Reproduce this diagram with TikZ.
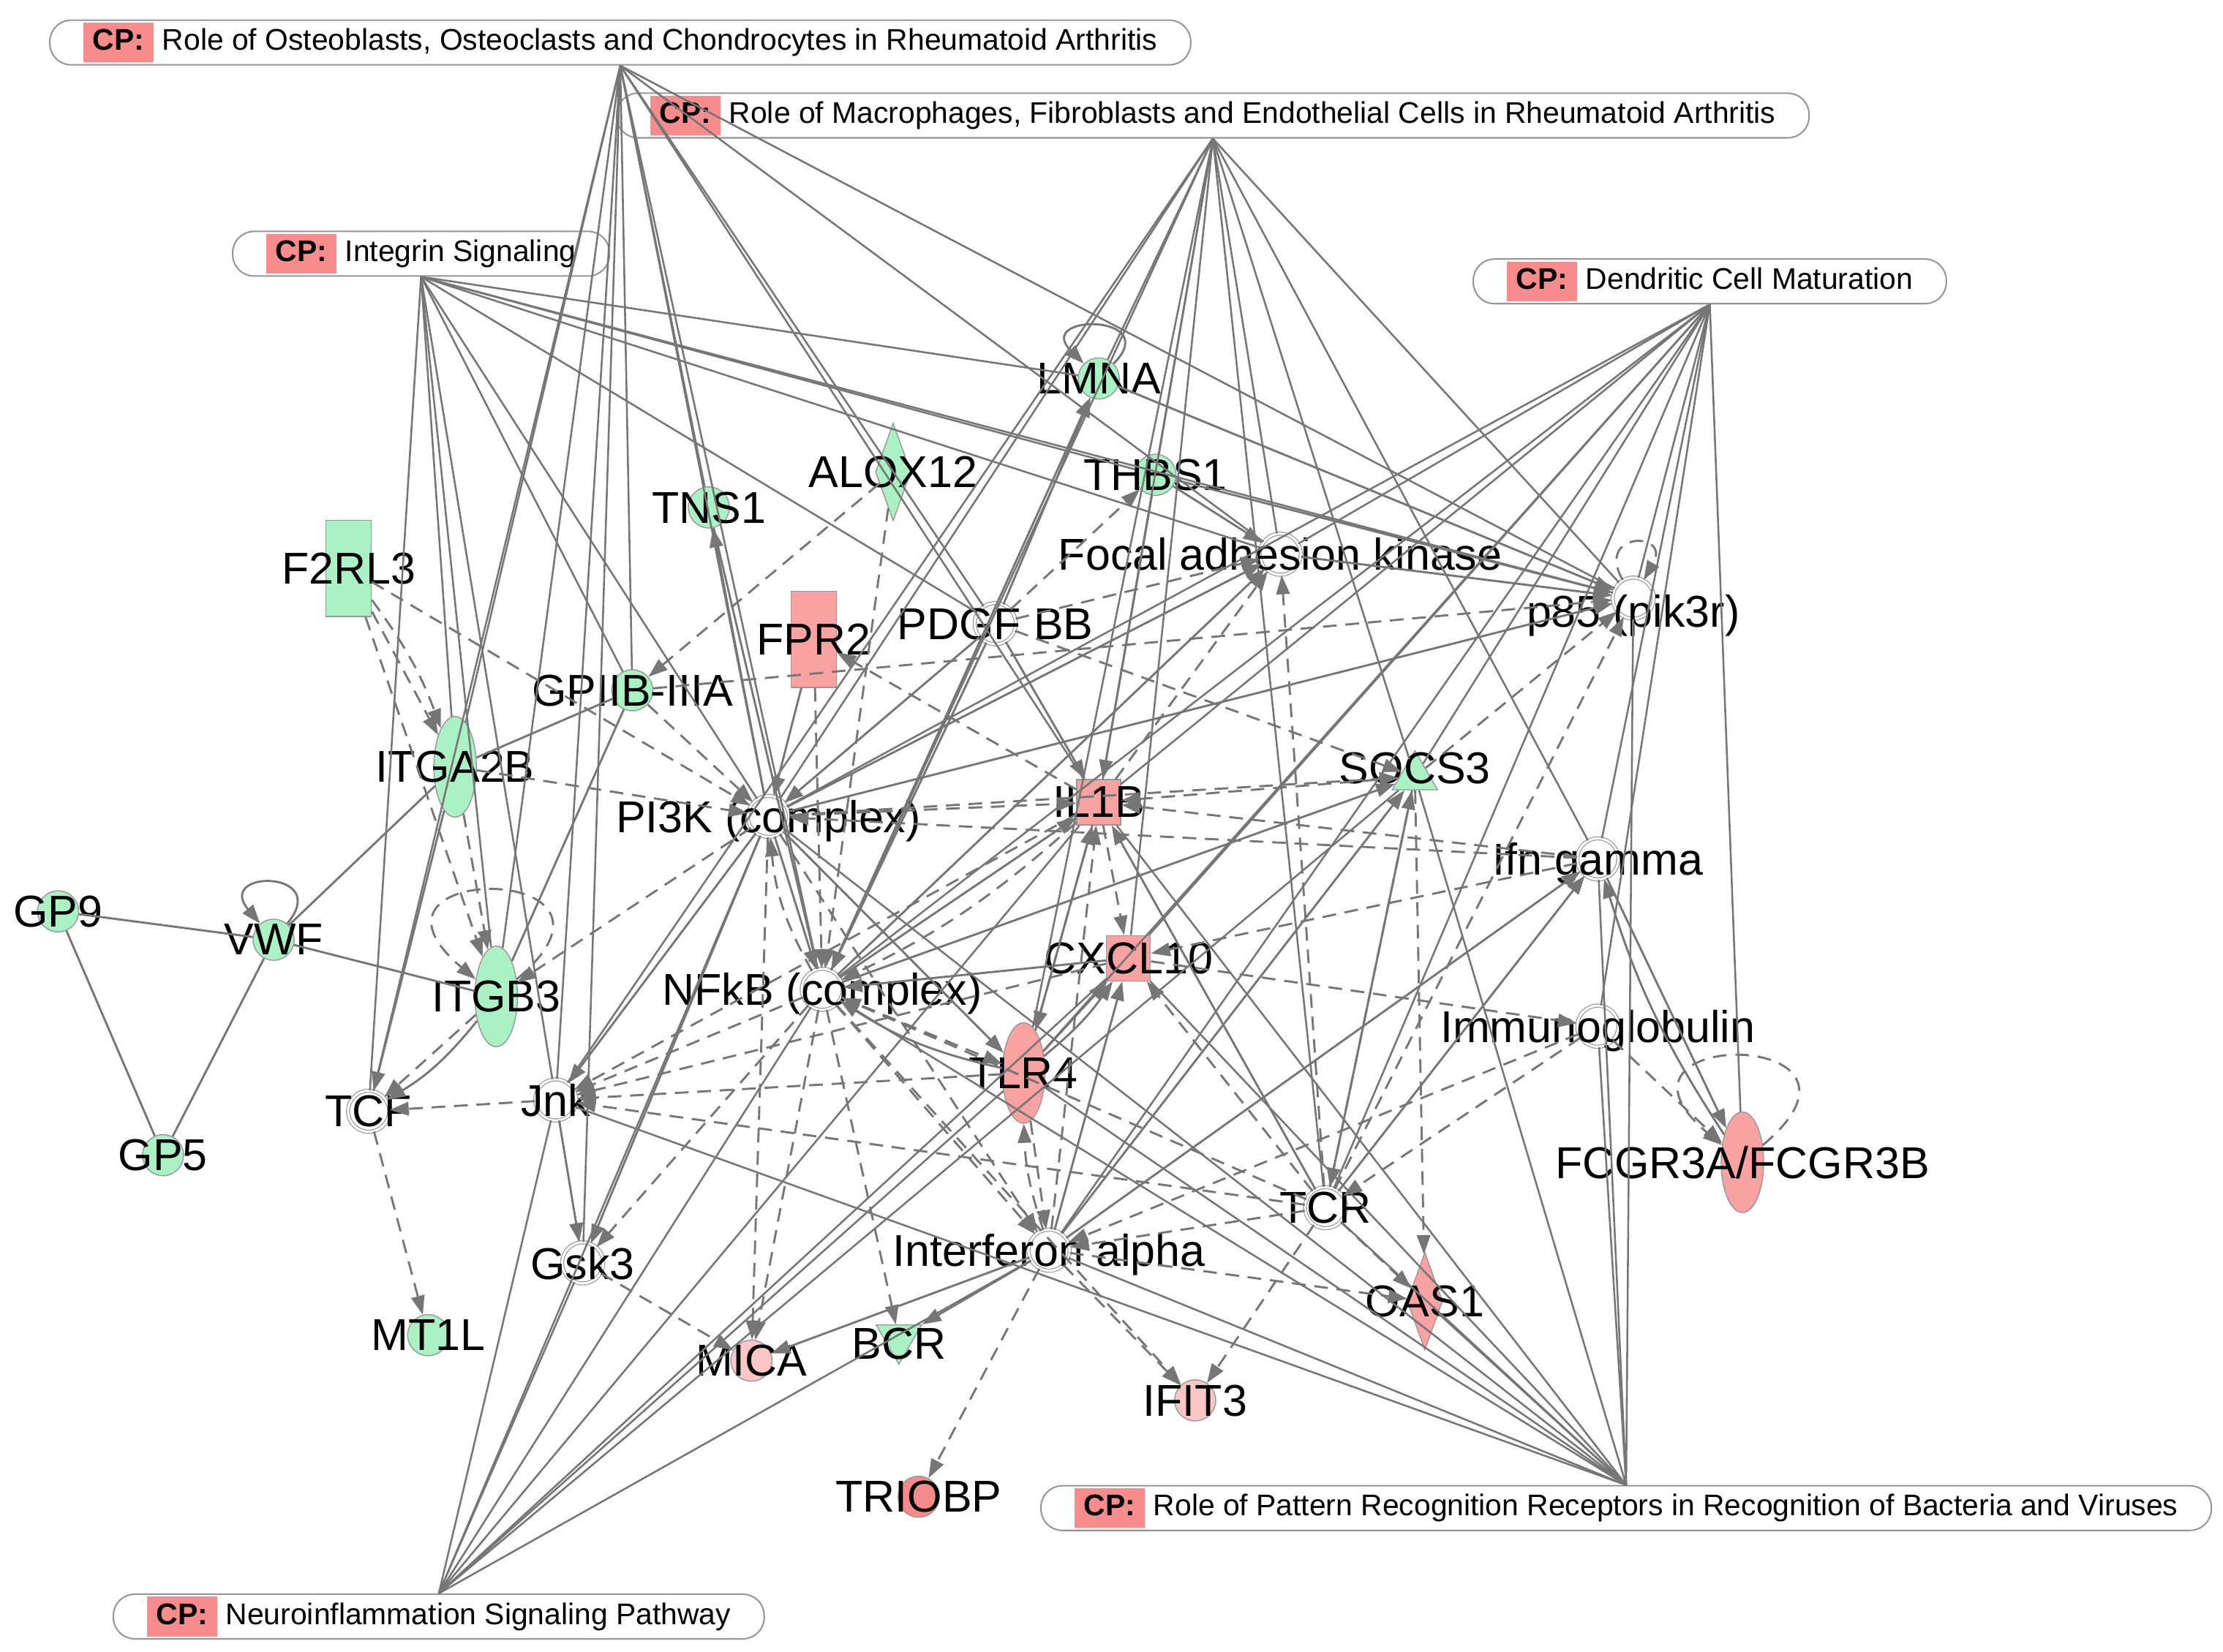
\documentclass[tikz,border=0pt]{standalone}
\usepackage{fontspec}
\setmainfont{Liberation Sans}
\usepackage{tikz}
\usetikzlibrary{arrows.meta,shapes.geometric}
\definecolor{edgegray}{RGB}{118,118,118}
\definecolor{rimgray}{RGB}{150,150,150}
\definecolor{gfill}{RGB}{170,242,196}
\definecolor{rfill}{RGB}{248,162,162}
\definecolor{lfill}{RGB}{251,198,198}
\definecolor{dfill}{RGB}{244,138,138}
\definecolor{cpred}{RGB}{248,140,140}
\newcommand{\cptag}{{\setlength{\fboxsep}{0pt}\colorbox{cpred}{\rule[-0.17cm]{0pt}{0.56cm}\hspace{0.135cm}\textbf{CP:}\hspace{0.135cm}}}\hspace{0.12cm}}

\begin{document}
\begin{tikzpicture}[x=0.02cm, y=-0.02cm,
    lbl/.style={font=\fontsize{17.9}{20}\selectfont, inner sep=0pt, text depth=0pt},
    gene/.style={draw=rimgray, line width=0.4pt, inner sep=0pt},
    gcirc/.style={gene, circle, fill=gfill, minimum size=0.58cm},
    gell/.style={gene, ellipse, fill=gfill, minimum width=0.6cm, minimum height=1.42cm},
    grect/.style={gene, rectangle, fill=gfill, minimum width=0.64cm, minimum height=1.36cm},
    gdiam/.style={gene, diamond, fill=gfill, minimum width=0.5cm, minimum height=1.38cm},
    gtri/.style={gene, regular polygon, regular polygon sides=3, fill=gfill, minimum size=0.74cm},
    rrect/.style={grect, fill=rfill},
    rsq/.style={gene, rectangle, fill=rfill, minimum width=0.62cm, minimum height=0.64cm},
    rell/.style={gell, fill=rfill},
    rdiam/.style={gdiam, fill=rfill},
    lcirc/.style={gcirc, fill=lfill},
    dcirc/.style={gcirc, fill=dfill},
    cplx/.style={circle, draw=rimgray, line width=0.35pt, double=white, double distance=0.9pt, fill=white, minimum size=0.58cm, inner sep=0pt},
    cpbox/.style={draw=rimgray, line width=0.6pt, fill=white, rounded corners=0.3cm, minimum height=0.63cm, inner xsep=0.47cm, inner ysep=0.03cm, font=\fontsize{12}{14}\selectfont},
    sline/.style={draw=edgegray, line width=0.85pt},
    cpline/.style={draw=edgegray, line width=0.75pt},
    sarrow/.style={sline, -{Triangle[length=0.27cm, width=0.19cm]}},
    darrow/.style={sarrow, dash pattern=on 5.5pt off 3.5pt}]
    \useasboundingbox (0, 0) rectangle (1568, 1165.5);

    % canonical pathways
    \node [cpbox] (cpa) at (437.5, 30) {\cptag Role of Osteoblasts, Osteoclasts and Chondrocytes in Rheumatoid Arthritis};
    \node [cpbox] (cpb) at (855.5, 81.5) {\cptag Role of Macrophages, Fibroblasts and Endothelial Cells in Rheumatoid Arthritis};
    \node [cpbox] (cpc) at (297, 179) {\cptag Integrin Signaling};
    \node [cpbox] (cpd) at (1206, 198.5) {\cptag Dendritic Cell Maturation};
    \node [cpbox] (cpe) at (1147, 1064) {\cptag Role of Pattern Recognition Receptors in Recognition of Bacteria and Viruses};
    \node [cpbox] (cpf) at (309.5, 1140.5) {\cptag Neuroinflammation Signaling Pathway};

    % molecules
    \node [gcirc, label={[lbl]center:LMNA}] (lmna) at (775, 267) {};
    \node [gdiam, label={[lbl]center:ALOX12}] (alox) at (630, 333) {};
    \node [gcirc, label={[lbl]center:TNS1}] (tns) at (500, 358) {};
    \node [gcirc, label={[lbl]center:THBS1}] (thbs) at (815, 335) {};
    \node [grect, label={[lbl]center:F2RL3}] (ftrl) at (246, 401) {};
    \node [rrect, label={[lbl]center:FPR2}] (fpr) at (574, 451) {};
    \node [cplx, label={[lbl]center:PDGF BB}] (pdgf) at (702, 440) {};
    \node [cplx, label={[lbl]center:Focal adhesion kinase}] (fak) at (903, 391) {};
    \node [cplx, label={[lbl, yshift=-0.18cm]center:p85 (pik3r)}] (pik) at (1152, 422) {};
    \node [gcirc, label={[lbl]center:GPIIB-IIIA}] (gpiib) at (446, 487) {};
    \node [gell, label={[lbl]center:ITGA2B}] (itga) at (321, 541) {};
    \node [cplx, label={[lbl]center:PI3K (complex)}] (pik3c) at (542, 576) {};
    \node [rsq, label={[lbl]center:IL1B}] (ilb) at (775, 566) {};
    \node [gtri, label={[lbl, yshift=0.12cm]center:SOCS3}] (socs) at (998, 548) {};
    \node [cplx, label={[lbl]center:Ifn gamma}] (ifng) at (1127, 606) {};
    \node [gcirc, label={[lbl]center:GP9}] (gpnine) at (41, 643) {};
    \node [gcirc, label={[lbl]center:VWF}] (vwf) at (193, 663) {};
    \node [gell, label={[lbl]center:ITGB3}] (itgb) at (350, 703) {};
    \node [rsq, label={[lbl]center:CXCL10}] (cxcl) at (796, 676) {};
    \node [cplx, label={[lbl]center:NFkB (complex)}] (nfkb) at (580, 698) {};
    \node [cplx, label={[lbl]center:Immunoglobulin}] (immu) at (1127, 724) {};
    \node [rell, label={[lbl]center:TLR4}] (tlr) at (722, 757) {};
    \node [rell, label={[lbl]center:FCGR3A/FCGR3B}] (fcgr) at (1229, 820) {};
    \node [cplx, label={[lbl]center:TCF}] (tcf) at (260, 784) {};
    \node [cplx, label={[lbl]center:Jnk}] (jnk) at (392, 776) {};
    \node [gcirc, label={[lbl]center:GP5}] (gpfive) at (115, 815) {};
    \node [cplx, label={[lbl]center:TCR}] (tcr) at (935, 852) {};
    \node [cplx, label={[lbl]center:Gsk3}] (gsk) at (411, 891) {};
    \node [cplx, label={[lbl]center:Interferon alpha}] (ifna) at (740, 882) {};
    \node [rdiam, label={[lbl]center:OAS1}] (oas) at (1005, 918) {};
    \node [gcirc, label={[lbl]center:MT1L}] (mtl) at (302, 942) {};
    \node [lcirc, label={[lbl]center:MICA}] (mica) at (530, 960) {};
    \node [gtri, shape border rotate=180, label={[lbl, yshift=-0.08cm]center:BCR}] (bcr) at (634, 944) {};
    \node [lcirc, label={[lbl]center:IFIT3}] (ifit) at (843, 988) {};
    \node [dcirc, label={[lbl]center:TRIOBP}] (triobp) at (648, 1056) {};

    % pathway membership
    \draw [cpline] (cpa.south) to (itga);
    \draw [cpline] (cpa.south) to (itgb);
    \draw [cpline] (cpa.south) to (gpiib);
    \draw [cpline] (cpa.south) to (tns);
    \draw [cpline] (cpa.south) to (jnk);
    \draw [cpline] (cpa.south) to (gsk);
    \draw [cpline] (cpa.south) to (tcf);
    \draw [cpline] (cpa.south) to (pik3c);
    \draw [cpline] (cpa.south) to (pdgf);
    \draw [cpline] (cpa.south) to (nfkb);
    \draw [cpline] (cpa.south) to (ilb);
    \draw [cpline] (cpa.south) to (fak);
    \draw [cpline] (cpa.south) to (pik);
    \draw [cpline] (cpb.south) to (lmna);
    \draw [cpline] (cpb.south) to (thbs);
    \draw [cpline] (cpb.south) to (pik3c);
    \draw [cpline] (cpb.south) to (nfkb);
    \draw [cpline] (cpb.south) to (jnk);
    \draw [cpline] (cpb.south) to (ilb);
    \draw [cpline] (cpb.south) to (cxcl);
    \draw [cpline] (cpb.south) to (tlr);
    \draw [cpline] (cpb.south) to (socs);
    \draw [cpline] (cpb.south) to (tcr);
    \draw [cpline] (cpb.south) to (fak);
    \draw [cpline] (cpb.south) to (pik);
    \draw [cpline] (cpb.south) to (ifng);
    \draw [cpline] (cpc.south) to (itga);
    \draw [cpline] (cpc.south) to (itgb);
    \draw [cpline] (cpc.south) to (tcf);
    \draw [cpline] (cpc.south) to (gpiib);
    \draw [cpline] (cpc.south) to (pik3c);
    \draw [cpline] (cpc.south) to (jnk);
    \draw [cpline] (cpc.south) to (pdgf);
    \draw [cpline] (cpc.south) to (lmna);
    \draw [cpline] (cpc.south) to (thbs);
    \draw [cpline] (cpc.south) to (fak);
    \draw [cpline] (cpc.south) to (pik);
    \draw [cpline] (cpd.south) to (pik3c);
    \draw [cpline] (cpd.south) to (nfkb);
    \draw [cpline] (cpd.south) to (ilb);
    \draw [cpline] (cpd.south) to (cxcl);
    \draw [cpline] (cpd.south) to (tlr);
    \draw [cpline] (cpd.south) to (ifna);
    \draw [cpline] (cpd.south) to (tcr);
    \draw [cpline] (cpd.south) to (fak);
    \draw [cpline] (cpd.south) to (pik);
    \draw [cpline] (cpd.south) to (ifng);
    \draw [cpline] (cpd.south) to (immu);
    \draw [cpline] (cpd.south) to (fcgr);
    \draw [cpline] (cpd.south) to (socs);
    \draw [cpline] (cpe.north) to (jnk);
    \draw [cpline] (cpe.north) to (pik3c);
    \draw [cpline] (cpe.north) to (nfkb);
    \draw [cpline] (cpe.north) to (tlr);
    \draw [cpline] (cpe.north) to (ilb);
    \draw [cpline] (cpe.north) to (cxcl);
    \draw [cpline] (cpe.north) to (ifna);
    \draw [cpline] (cpe.north) to (oas);
    \draw [cpline] (cpe.north) to (socs);
    \draw [cpline] (cpe.north) to (ifng);
    \draw [cpline] (cpe.north) to (pik);
    \draw [cpline] (cpe.north) to (tcr);
    \draw [cpline] (cpe.north) to (immu);
    \draw [cpline] (cpf.north) to (jnk);
    \draw [cpline] (cpf.north) to (gsk);
    \draw [cpline] (cpf.north) to (pik3c);
    \draw [cpline] (cpf.north) to (nfkb);
    \draw [cpline] (cpf.north) to (tlr);
    \draw [cpline] (cpf.north) to (ilb);
    \draw [cpline] (cpf.north) to (cxcl);
    \draw [cpline] (cpf.north) to (ifna);
    \draw [cpline] (cpf.north) to (socs);

    % left cluster
    \draw [sline] (gpnine) to (vwf);
    \draw [sline] (gpnine) to (gpfive);
    \draw [sline] (vwf) to (gpfive);
    \draw [sline] (vwf) to (itgb);
    \draw [sline] (vwf) to (itga);
    \draw [sarrow] (vwf) to [out=50, in=130, distance=1cm] (vwf);
    \draw [darrow] (ftrl) to (itga);
    \draw [darrow] (ftrl) to [bend left=8] (itga);
    \draw [darrow] (ftrl) to (itgb);
    \draw [darrow] (ftrl) to (pik3c);
    \draw [darrow] (itga) to (pik3c);
    \draw [darrow] (itga) to (itgb);
    \draw [sline] (itga) to (gpiib);
    \draw [sarrow] (itga) to (tcf);
    \draw [darrow] (itgb) to (tcf);
    \draw [sarrow] (itgb) to [bend left=10] (tcf);
    \draw [darrow] (itgb) to [out=40, in=140, distance=2.6cm] (itgb);
    \draw [sline] (gpiib) to (itgb);
    \draw [darrow] (gpiib) to (pik3c);
    \draw [darrow] (gpiib) to (pik);
    \draw [darrow] (pik3c) to (itgb);
    \draw [darrow] (jnk) to (tcf);
    \draw [darrow] (tcf) to (mtl);
    \draw [sarrow] (jnk) to (gsk);
    \draw [darrow] (gsk) to (mica);

    % upper part
    \draw [darrow] (alox) to (gpiib);
    \draw [darrow] (alox) to (nfkb);
    \draw [sarrow] (pik3c) to (tns);
    \draw [sline] (tns) to (nfkb);
    \draw [sarrow] (fpr) to (pik3c);
    \draw [darrow] (fpr) to (nfkb);
    \draw [darrow] (ilb) to (fpr);
    \draw [sarrow] (pdgf) to (pik3c);
    \draw [sarrow] (pdgf) to (nfkb);
    \draw [sarrow] (pdgf) to (lmna);
    \draw [darrow] (pdgf) to (thbs);
    \draw [darrow] (pdgf) to (fak);
    \draw [sarrow] (pdgf) to (ilb);
    \draw [darrow] (pdgf) to (socs);
    \draw [sarrow] (lmna) to [out=45, in=135, distance=1cm] (lmna);
    \draw [sarrow] (nfkb) to (lmna);
    \draw [sarrow] (lmna) to (pik);
    \draw [sarrow] (thbs) to (pik);
    \draw [sarrow] (thbs) to (fak);
    \draw [sarrow] (thbs) to (ilb);
    \draw [sarrow] (fak) to (pik);
    \draw [sarrow] (pik3c) to (fak);
    \draw [sarrow] (pik3c) to (pik);
    \draw [sarrow] (nfkb) to (fak);
    \draw [darrow] (ilb) to (fak);
    \draw [darrow] (tcr) to (fak);
    \draw [darrow] (pik) to [out=120, in=60, distance=0.8cm] (pik);

    % centre
    \draw [sarrow] (pik3c) to (nfkb);
    \draw [darrow] (nfkb) to [bend left=12] (pik3c);
    \draw [darrow] (pik3c) to (ilb);
    \draw [sarrow] (pik3c) to (jnk);
    \draw [sarrow] (pik3c) to (gsk);
    \draw [sarrow] (pik3c) to (tlr);
    \draw [darrow] (pik3c) to (socs);
    \draw [darrow] (pik3c) to (mica);
    \draw [darrow] (pik3c) to (ifna);
    \draw [darrow] (nfkb) to (jnk);
    \draw [darrow] (nfkb) to (gsk);
    \draw [sarrow] (nfkb) to (ilb);
    \draw [darrow] (ilb) to [bend left=8] (nfkb);
    \draw [darrow] (nfkb) to (tlr);
    \draw [sarrow] (tlr) to [bend left=10] (nfkb);
    \draw [darrow] (nfkb) to (mica);
    \draw [darrow] (nfkb) to (bcr);
    \draw [darrow] (nfkb) to (ifna);
    \draw [darrow] (nfkb) to (ifit);
    \draw [sarrow] (nfkb) to (socs);
    \draw [sarrow] (cxcl) to (nfkb);
    \draw [darrow] (ilb) to (jnk);
    \draw [darrow] (tlr) to (jnk);
    \draw [darrow] (cxcl) to (jnk);
    \draw [darrow] (tcr) to (jnk);
    \draw [darrow] (ilb) to (cxcl);
    \draw [darrow] (socs) to (ilb);
    \draw [sarrow] (tlr) to (ilb);
    \draw [darrow] (ilb) to (tlr);
    \draw [darrow] (ifna) to (ilb);
    \draw [sarrow] (tcr) to (ilb);
    \draw [darrow] (ifng) to (ilb);
    \draw [sarrow] (tlr) to (cxcl);
    \draw [sarrow] (tlr) to [bend right=8] (cxcl);
    \draw [darrow] (ifng) to (cxcl);
    \draw [sarrow] (ifna) to (cxcl);
    \draw [darrow] (tcr) to (cxcl);
    \draw [darrow] (cxcl) to (immu);
    \draw [darrow] (tlr) to (ifna);
    \draw [darrow] (ifna) to [bend left=8] (tlr);

    % right and lower part
    \draw [darrow] (socs) to (oas);
    \draw [sarrow] (ifna) to (socs);
    \draw [sarrow] (tcr) to (socs);
    \draw [darrow] (socs) to (pik);
    \draw [darrow] (socs) to (tcr);
    \draw [sarrow] (ifng) to (fcgr);
    \draw [sarrow] (fcgr) to [bend left=8] (ifng);
    \draw [sarrow] (ifna) to (ifng);
    \draw [sarrow] (tcr) to (ifng);
    \draw [darrow] (ifng) to (pik3c);
    \draw [darrow] (immu) to (fcgr);
    \draw [darrow] (fcgr) to [out=40, in=140, distance=2.6cm] (fcgr);
    \draw [darrow] (immu) to (tcr);
    \draw [darrow] (immu) to (ifna);
    \draw [darrow] (tcr) to (oas);
    \draw [darrow] (tcr) to (ifit);
    \draw [darrow] (tcr) to (ifna);
    \draw [darrow] (tcr) to (nfkb);
    \draw [darrow] (tcr) to (pik);
    \draw [darrow] (ifna) to (triobp);
    \draw [darrow] (ifna) to (ifit);
    \draw [darrow] (ifna) to (oas);
    \draw [sarrow] (ifna) to (bcr);
    \draw [sarrow] (ifna) to (mica);
\end{tikzpicture}
\end{document}
